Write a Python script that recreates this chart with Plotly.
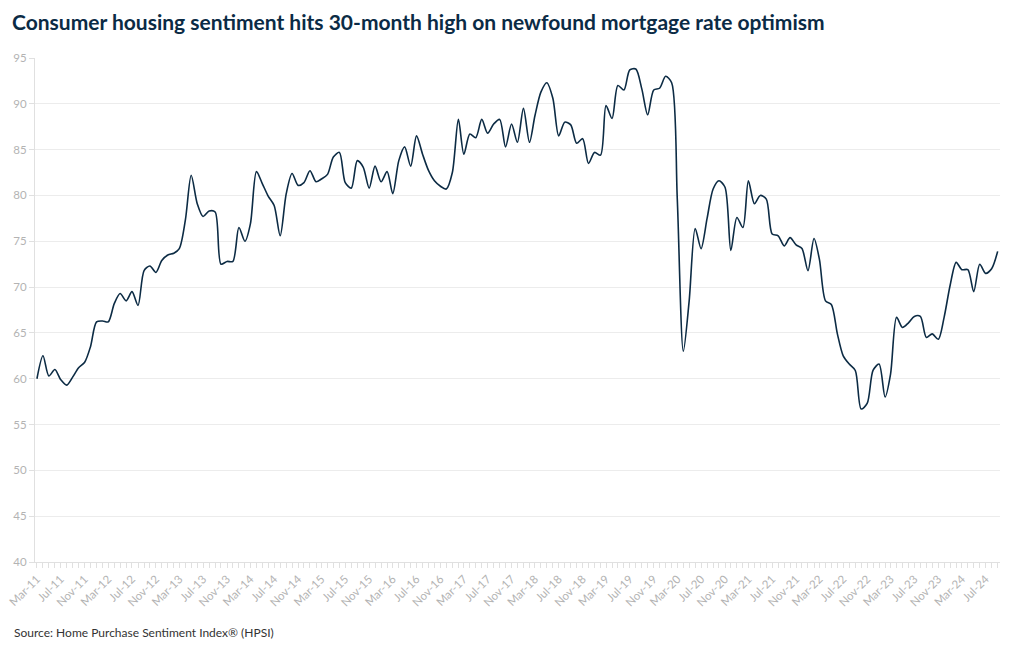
import pandas as pd
import plotly.graph_objects as go

# Monthly HPSI readings, Mar-2011 .. Sep-2024
hpsi_2011 = [60.0, 62.5, 60.3, 61.0, 59.9, 59.3, 60.2, 61.2, 61.8, 63.5]            # Mar-Dec
hpsi_2012 = [66.2, 66.3, 66.2, 68.2, 69.3, 68.5, 69.5, 68.0, 71.8, 72.3, 71.6, 72.9]
hpsi_2013 = [73.5, 73.7, 74.2, 77.3, 82.2, 79.1, 77.7, 78.3, 78.2, 72.5, 72.8, 72.8]
hpsi_2014 = [76.5, 75.0, 76.9, 82.6, 81.3, 79.9, 78.9, 75.6, 80.2, 82.4, 81.1, 81.4]
hpsi_2015 = [82.7, 81.5, 81.8, 82.3, 84.2, 84.7, 81.4, 80.8, 83.8, 83.1, 80.8, 83.2]
hpsi_2016 = [81.5, 82.6, 80.2, 83.8, 85.3, 83.2, 86.5, 84.5, 82.7, 81.6, 81.0, 80.7]
hpsi_2017 = [82.5, 88.3, 84.5, 86.7, 86.3, 88.3, 86.8, 87.8, 88.3, 85.3, 87.8, 85.8]
hpsi_2018 = [89.5, 85.8, 88.7, 91.3, 92.3, 90.6, 86.5, 88.0, 87.7, 85.7, 86.2, 83.5]
hpsi_2019 = [84.7, 84.4, 89.8, 88.4, 92.0, 91.5, 93.7, 93.8, 91.6, 88.8, 91.5, 91.7]
hpsi_2020 = [93.0, 92.3, 79.6, 63.0, 68.5, 76.4, 74.2, 77.5, 80.7, 81.6, 80.9, 74.0]
hpsi_2021 = [77.6, 76.5, 81.6, 79.1, 80.0, 79.6, 75.8, 75.6, 74.5, 75.4, 74.6, 74.2]
hpsi_2022 = [71.8, 75.3, 73.0, 68.5, 68.1, 64.9, 62.5, 61.6, 60.9, 56.7, 57.3, 60.9]
hpsi_2023 = [61.6, 58.0, 60.5, 66.7, 65.6, 66.1, 66.8, 66.8, 64.5, 64.9, 64.3, 66.7]
hpsi_2024 = [70.2, 72.7, 71.9, 71.9, 69.5, 72.5, 71.5, 72.0, 73.9]                  # Jan-Sep

values = (hpsi_2011 + hpsi_2012 + hpsi_2013 + hpsi_2014 + hpsi_2015 + hpsi_2016 +
          hpsi_2017 + hpsi_2018 + hpsi_2019 + hpsi_2020 + hpsi_2021 + hpsi_2022 +
          hpsi_2023 + hpsi_2024)
months = pd.date_range("2011-03-01", periods=len(values), freq="MS")

y_ticks = [40, 45, 50, 55, 60, 65, 70, 75, 80, 85, 90, 95]

title_text = "Consumer housing sentiment hits 30-month high on newfound mortgage rate optimism"
source_text = "Source: Home Purchase Sentiment Index® (HPSI)"

FONT = "Lato, 'Noto Sans', sans-serif"
GRID = "#ececec"
AXIS = "#e0e0e0"
TICKFONT = dict(family=FONT, size=11.5, color="#b3b3b3")

# the page body adds an 8px offset, so the figure is 8px smaller on each axis
W, H = 1012, 642

fig = go.Figure()
fig.add_trace(go.Scatter(
    x=months, y=values, mode="lines",
    line=dict(color="#0c2b44", width=1.6, shape="spline", smoothing=0.8),
    hoverinfo="x+y", showlegend=False,
))

fig.update_layout(
    width=W, height=H,
    margin=dict(l=27, r=20, t=50, b=88),
    paper_bgcolor="white", plot_bgcolor="white",
    font=dict(family=FONT),
    title=dict(text="<b>" + title_text + "</b>",
               x=4 / W, xref="container", xanchor="left",
               y=1 - 15 / H, yref="container", yanchor="middle",
               pad=dict(l=0, t=0, b=0, r=0),
               font=dict(family=FONT, size=21, color="#0b2b45")),
    annotations=[dict(text=source_text, xref="paper", yref="paper",
                      x=-23 / 965, y=-70 / 504, xanchor="left", yanchor="middle",
                      showarrow=False,
                      font=dict(family=FONT, size=12, color="#333333"))],
)

fig.update_xaxes(
    type="date", automargin=False, ticklabeloverflow="allow",
    range=["2011-02-19", "2024-09-13"],
    tick0="2011-03-01", dtick="M4", tickformat="%b-%y",
    tickangle=-45, tickfont=TICKFONT,
    ticks="outside", ticklen=5, tickcolor=AXIS,
    minor=dict(dtick="M1", tick0="2011-03-01", ticks="outside",
               ticklen=5, tickcolor=AXIS, showgrid=False),
    showgrid=False, showline=True, linecolor=AXIS, linewidth=1,
    zeroline=False,
)
fig.update_yaxes(
    range=[40, 95], tickvals=y_ticks, tickfont=TICKFONT, automargin=False,
    ticklabeloverflow="allow",
    ticks="outside", ticklen=5, tickcolor=AXIS,
    showgrid=True, gridcolor=GRID, gridwidth=1,
    showline=True, linecolor=AXIS, linewidth=1, zeroline=False,
)

fig.write_html("out.html")
